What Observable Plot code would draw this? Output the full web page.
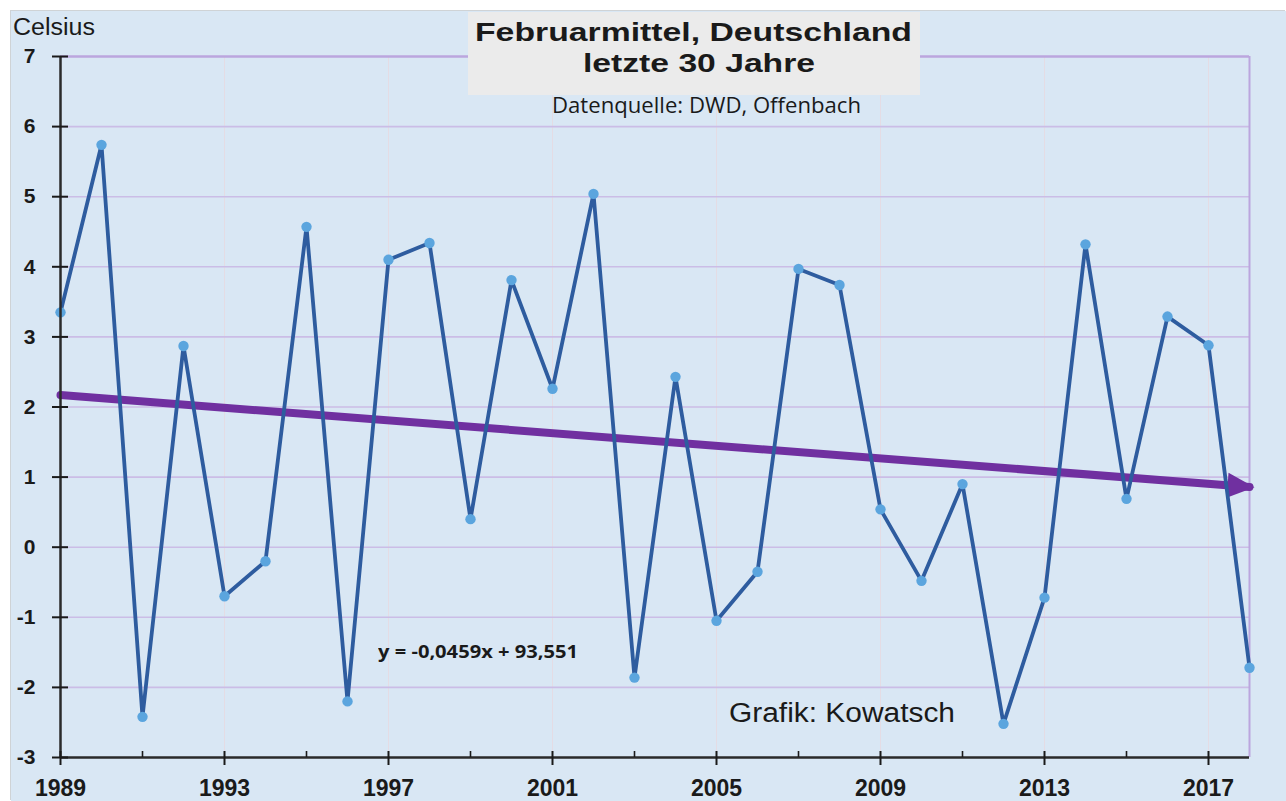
<!DOCTYPE html>
<html><head><meta charset="utf-8">
<script src="https://cdn.jsdelivr.net/npm/d3@7"></script>
<script src="https://cdn.jsdelivr.net/npm/@observablehq/plot@0.6"></script>
<style>
body{margin:0;background:#fff;}
#wrap{position:relative;width:1286px;height:801px;overflow:hidden;background:#fff;}
#chart{position:absolute;left:11px;top:11px;box-shadow:-1px -1px 0 #cfd3d6;}
.t{position:absolute;white-space:nowrap;line-height:1;transform-origin:0 0;color:#1a1a1a;}
#tbox{position:absolute;left:468px;top:12px;width:452px;height:83px;background:#ebebeb;}
</style></head><body><div id="wrap"><div id="chart"></div><div id="tbox"></div></div>
<script>
// ---- data ----
const years = [1989,1990,1991,1992,1993,1994,1995,1996,1997,1998,1999,2000,2001,2002,2003,2004,2005,2006,2007,2008,2009,2010,2011,2012,2013,2014,2015,2016,2017,2018];
const temps = [3.35,5.74,-2.42,2.87,-0.70,-0.20,4.57,-2.20,4.10,4.34,0.40,3.81,2.26,5.04,-1.86,2.43,-1.05,-0.35,3.97,3.74,0.54,-0.48,0.90,-2.52,-0.72,4.32,0.69,3.29,2.88,-1.72];
const trendYears = [1989, 2018];
const trendValues = [2.17, 0.86];
const majorTicks = [1989,1993,1997,2001,2005,2009,2013,2017];
const minorTicks = [1991,1995,1999,2003,2007,2011,2015];
const vGrid = [1993,1997,2001,2005,2009,2013,2017];
const yTicks = [-3,-2,-1,0,1,2,3,4,5,6,7];
const hGrid = [-2,-1,0,1,2,3,4,5,6];
const titleLines = ["Februarmittel, Deutschland", "letzte 30 Jahre"];
const subtitle = "Datenquelle: DWD, Offenbach";
const yLabel = "Celsius";
const equation = "y = -0,0459x + 93,551";
const credit = "Grafik: Kowatsch";

const data = years.map((y, i) => ({year: y, temp: temps[i]}));
const trend = trendYears.map((y, i) => ({year: y, temp: trendValues[i]}));

function arrowHead(color) {
  const m = d3.create("svg:marker")
    .attr("viewBox", "-23 -14 31 28")
    .attr("markerWidth", 31).attr("markerHeight", 28)
    .attr("refX", 0).attr("refY", 0)
    .attr("orient", "auto")
    .attr("markerUnits", "userSpaceOnUse")
    .attr("overflow", "visible");
  m.append("path").attr("d", "M5,0L-22,-12.5L-22,12.5Z").attr("fill", color).attr("stroke", "none");
  return m.node();
}

const font = "'Liberation Sans', Arial, sans-serif";

const plot = Plot.plot({
  width: 1275, height: 790,
  marginLeft: 49, marginRight: 37, marginTop: 45, marginBottom: 44,
  style: {background: "#d9e7f4", overflow: "visible", color: "#1a1a1a", fontFamily: font},
  x: {domain: [1989, 2018], label: null},
  y: {domain: [-3, 7], label: null},
  marks: [
    Plot.gridX(vGrid, {stroke: "#e4dce4", strokeOpacity: 1, strokeWidth: 1}),
    Plot.gridY(hGrid, {stroke: "#cbbde6", strokeOpacity: 1, strokeWidth: 1.6}),
    Plot.ruleY([7], {stroke: "#bba6de", strokeWidth: 2.5}),
    Plot.ruleX([2018], {y1: -3, y2: 7, stroke: "#bba6de", strokeWidth: 2}),
    Plot.line(trend, {x: "year", y: "temp", stroke: "#7030a0", strokeWidth: 8, markerEnd: arrowHead}),
    Plot.line(data, {x: "year", y: "temp", stroke: "#2e5c9f", strokeWidth: 3.8}),
    Plot.dot(data, {x: "year", y: "temp", r: 5.2, fill: "#5ba5de", stroke: "none"}),
    Plot.ruleY([-3], {stroke: "#2a2a2a", strokeWidth: 2.5}),
    Plot.ruleX([1989], {y1: -3, y2: 7, stroke: "#2a2a2a", strokeWidth: 2.5}),
    Plot.axisY(yTicks, {label: null, tickSize: 16, dx: 8, tickPadding: 17, fontSize: 21, fontWeight: "bold", strokeWidth: 2, tickFormat: d => `${d}`}),
    Plot.axisX(majorTicks, {label: null, tickSize: 14, dy: -6, tickPadding: 14, fontSize: 23, fontWeight: "bold", strokeWidth: 2, tickFormat: d => `${d}`}),
    Plot.axisX(minorTicks, {label: null, tickSize: 6, dy: -6, strokeWidth: 1.6, tickFormat: () => ""})
  ]
});
document.getElementById("chart").appendChild(plot);

// ---- text overlays ----
const wrap = document.getElementById("wrap");
function place(text, {left, capTop, size, family, weight = "normal", width, capRatio}) {
  const d = document.createElement("div");
  d.className = "t";
  d.textContent = text;
  d.style.fontFamily = family;
  d.style.fontSize = size + "px";
  d.style.fontWeight = weight;
  wrap.appendChild(d);
  d.style.left = left + "px";
  d.style.top = (capTop - capRatio * size) + "px";
  const w = d.getBoundingClientRect().width;
  if (width && w > 0) d.style.transform = `scaleX(${width / w})`;
  return d;
}
const lib = "'Liberation Sans', Arial, sans-serif";
const open = "'Open Sans', sans-serif";
place(titleLines[0], {left: 475, capTop: 22, size: 26, family: lib, weight: "bold", width: 437, capRatio: 0.13});
place(titleLines[1], {left: 583, capTop: 53, size: 26, family: lib, weight: "bold", width: 232, capRatio: 0.13});
place(subtitle, {left: 552, capTop: 99, size: 21, family: open, width: 309, capRatio: 0.174});
place(yLabel, {left: 12.5, capTop: 18.5, size: 23, family: lib, width: 82, capRatio: 0.13});
place(equation, {left: 378, capTop: 645, size: 18, family: open, weight: "bold", width: 200, capRatio: 0.174});
place(credit, {left: 729, capTop: 704, size: 27, family: lib, width: 226, capRatio: 0.13});
</script>
</body></html>
